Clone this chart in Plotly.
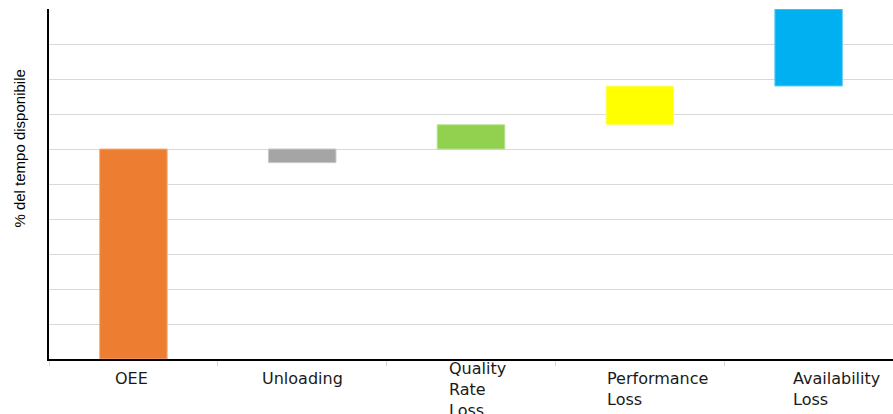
import plotly.graph_objects as go

# Data
categories = ["OEE", "Unloading", "Quality Rate Loss", "Performance Loss", "Availability Loss"]
tick_labels = ["OEE", "Unloading", "Quality<br>Rate<br>Loss", "Performance<br>Loss", "Availability<br>Loss"]
bar_bottom = [0, 56.1, 60, 66.9, 78]
bar_top = [60, 60, 66.9, 78, 100]
y_title = "% del tempo disponibile"

# Styles
colors = ["#ED7D31", "#A5A5A5", "#92D050", "#FFFF00", "#00B0F0"]
edge_colors = ["#F4B183", "#C9C9C9", "#B5E08A", "#FFFF80", "#66D0F6"]
label_xshift = [-2, 0, 6, 18, 28]
label_yshift = [-8, -8, 2, -8, -8]

heights = [t - b for t, b in zip(bar_top, bar_bottom)]

fig = go.Figure()
fig.add_trace(go.Bar(
    x=categories, y=heights, base=bar_bottom,
    marker=dict(color=colors, line=dict(color=edge_colors, width=1)),
    width=0.4, showlegend=False, hoverinfo="skip",
))

for cat, lab, sx, sy in zip(categories, tick_labels, label_xshift, label_yshift):
    fig.add_annotation(
        x=cat, xref="x", y=0, yref="paper", yanchor="top", xanchor="center",
        text=lab, align="left", showarrow=False, xshift=sx, yshift=sy,
        font=dict(family="DejaVu Sans, Open Sans, sans-serif", size=16, color="#1a1a1a"),
    )

fig.add_annotation(
    x=-0.036, xref="paper", xanchor="center", y=0.6, yref="paper",
    text=y_title, textangle=-90, showarrow=False,
    font=dict(family="Liberation Sans Narrow, Liberation Sans, sans-serif", size=15, color="#000000"),
)

fig.update_layout(
    width=893, height=414,
    margin=dict(l=49, r=0, t=9, b=55),
    paper_bgcolor="white", plot_bgcolor="white",
    xaxis=dict(
        type="category", showticklabels=False,
        showline=True, linecolor="#000000", linewidth=2,
        ticks="outside", tickson="boundaries", tickcolor="#D9D9D9", ticklen=5, tickwidth=1,
        showgrid=False, range=[-0.5, 4.5],
    ),
    yaxis=dict(
        range=[0, 100], dtick=10, showticklabels=False,
        showgrid=True, gridcolor="#D9D9D9", gridwidth=1,
        showline=True, linecolor="#000000", linewidth=2,
        zeroline=False, ticks="",
    ),
)

fig.write_html("out.html")
